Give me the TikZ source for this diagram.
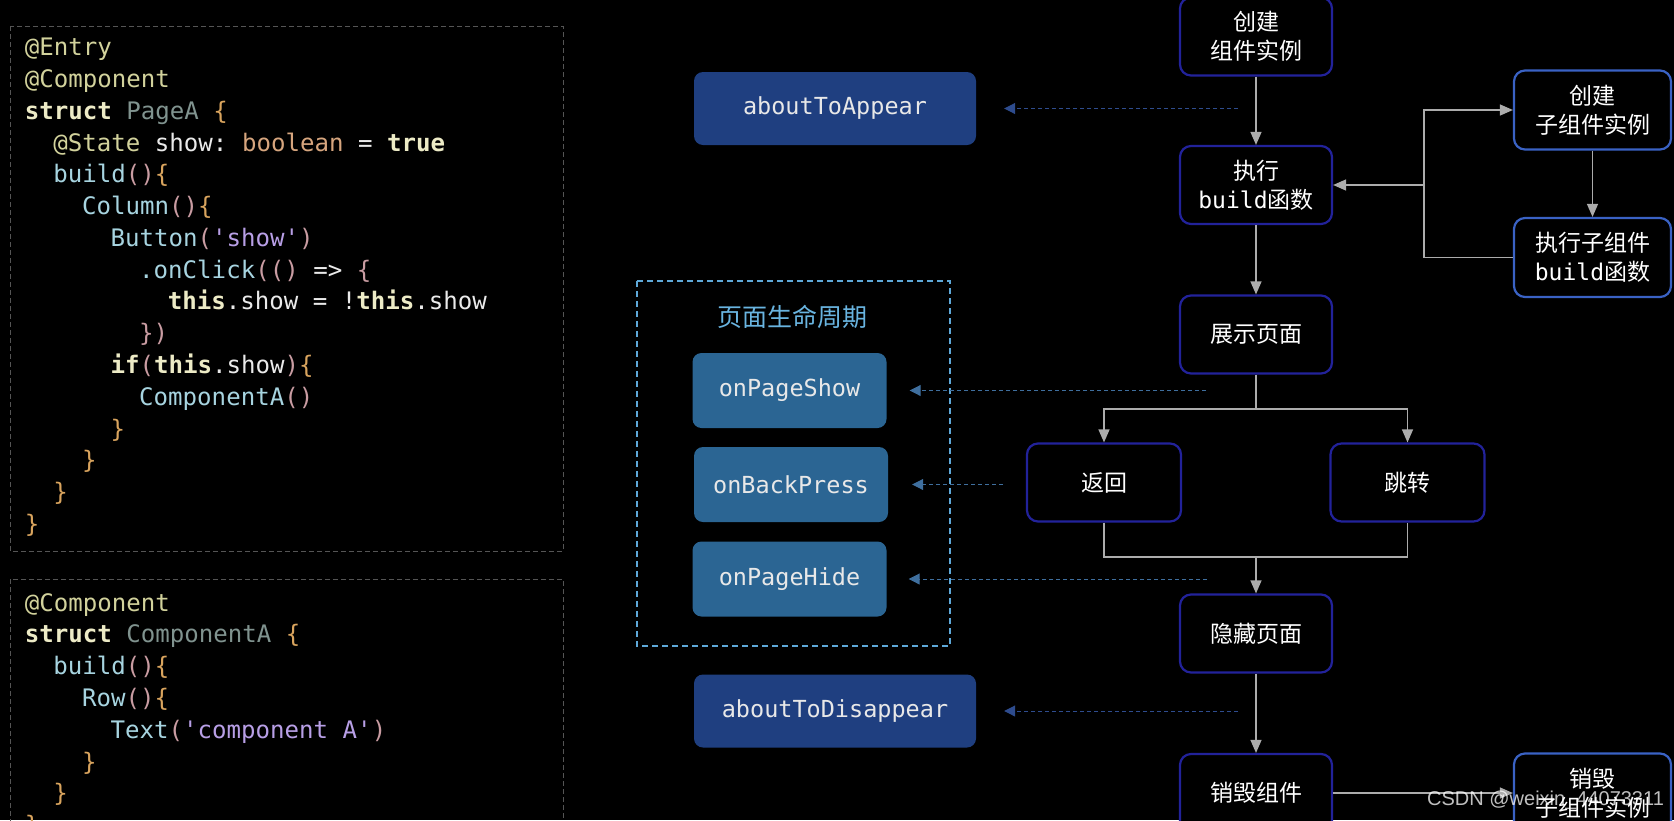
\documentclass[tikz,border=0pt]{standalone}
\usepackage{fontspec}
\setmonofont{DejaVu Sans Mono}
\newfontfamily\cjk{Noto Sans CJK SC}
\newfontfamily\wmfont{Liberation Sans}
\usetikzlibrary{arrows.meta}

\definecolor{annc}{HTML}{D2D29C}
\definecolor{kwc}{HTML}{EDEBC6}
\definecolor{tyc}{HTML}{80938F}
\definecolor{brc}{HTML}{D9A45E}
\definecolor{pac}{HTML}{C99CA2}
\definecolor{fnc}{HTML}{A7D4E0}
\definecolor{strc}{HTML}{B89FE6}
\definecolor{plainc}{HTML}{EAEAEA}
\definecolor{boolc}{HTML}{D6A57E}
\definecolor{codeframe}{HTML}{555555}
\definecolor{boxblue}{HTML}{22229A}
\definecolor{childblue}{HTML}{3A62C4}
\definecolor{hookblue}{HTML}{1F3F80}
\definecolor{pageblue}{HTML}{2B6593}
\definecolor{hooktext}{HTML}{E8E8E8}
\definecolor{linegray}{HTML}{ACACAC}
\definecolor{hookline}{HTML}{2E4C8E}
\definecolor{pageline}{HTML}{3F6F9E}
\definecolor{lifeframe}{HTML}{5EA8D8}
\definecolor{lifetitle}{HTML}{69B4E0}

\newcommand\cAnn[1]{\textcolor{annc}{#1}}
\newcommand\cKw[1]{\textcolor{kwc}{\textbf{#1}}}
\newcommand\cTy[1]{\textcolor{tyc}{#1}}
\newcommand\cBr[1]{\textcolor{brc}{#1}}
\newcommand\cPa[1]{\textcolor{pac}{#1}}
\newcommand\cFn[1]{\textcolor{fnc}{#1}}
\newcommand\cStr[1]{\textcolor{strc}{#1}}
\newcommand\cBool[1]{\textcolor{boolc}{#1}}

\tikzset{
  flowbox/.style={rectangle, rounded corners=11pt, fill=black, draw=boxblue, line width=2.2pt,
    minimum width=152pt, minimum height=78pt, inner sep=0pt, text=white, align=center,
    font=\cjk\fontsize{23}{29}\selectfont},
  childbox/.style={flowbox, draw=childblue, minimum width=157pt, minimum height=79pt},
  hookbox/.style={rectangle, rounded corners=9pt, fill=hookblue, minimum width=282pt,
    minimum height=73pt, inner sep=0pt, text=hooktext, font=\ttfamily\fontsize{23.5}{28}\selectfont},
  pagebox/.style={hookbox, fill=pageblue, minimum width=194pt, minimum height=75pt},
  flow/.style={draw=linegray, line width=1.3pt, -{Triangle[length=13pt,width=11pt]}},
  flowline/.style={draw=linegray, line width=1.3pt},
  hook/.style={dash pattern=on 4pt off 3pt, line width=1pt, -{Triangle[length=11pt,width=11pt]}},
  codeline/.style={anchor=mid west, inner sep=0pt, text=plainc,
    font=\ttfamily\fontsize{24.1}{28}\selectfont},
  codeframe/.style={draw=codeframe, line width=1pt, dash pattern=on 5pt off 3pt}
}

\begin{document}
\begin{tikzpicture}[x=1pt, y=-1pt]
\useasboundingbox (0,0) rectangle (1674,820);
\fill[black] (0,0) rectangle (1674,820);
\clip (0,0) rectangle (1674,820);

% code of the page
\draw[codeframe] (10,26) rectangle (563,551);
\foreach \lv/\ln/\code in {
  0/0/{\cAnn{@Entry}},
  0/1/{\cAnn{@Component}},
  0/2/{\cKw{struct} \cTy{PageA} \cBr{\{}},
  1/3/{\cAnn{@State} show: \cBool{boolean} = \cKw{true}},
  1/4/{\cFn{build}\cPa{()}\cBr{\{}},
  2/5/{\cFn{Column}\cPa{()}\cBr{\{}},
  3/6/{\cFn{Button}\cPa{(}\cStr{'show'}\cPa{)}},
  4/7/{\cFn{.onClick}\cPa{(()} => \cPa{\{}},
  5/8/{\cKw{this}.show = !\cKw{this}.show},
  4/9/{\cPa{\})}},
  3/10/{\cKw{if}\cPa{(}\cKw{this}.show\cPa{)}\cBr{\{}},
  4/11/{\cFn{ComponentA}\cPa{()}},
  3/12/{\cBr{\}}},
  2/13/{\cBr{\}}},
  1/14/{\cBr{\}}},
  0/15/{\cBr{\}}}}
  \node[codeline] (pagecode-\ln) at (24.6+28.6*\lv, 53.5+31.78*\ln) {\code};

% code of the component
\draw[codeframe] (10,579) rectangle (563,830);
\foreach \lv/\ln/\code in {
  0/0/{\cAnn{@Component}},
  0/1/{\cKw{struct} \cTy{ComponentA} \cBr{\{}},
  1/2/{\cFn{build}\cPa{()}\cBr{\{}},
  2/3/{\cFn{Row}\cPa{()}\cBr{\{}},
  3/4/{\cFn{Text}\cPa{(}\cStr{'component A'}\cPa{)}},
  2/5/{\cBr{\}}},
  1/6/{\cBr{\}}},
  0/7/{\cBr{\}}}}
  \node[codeline] (compcode-\ln) at (24.6+28.6*\lv, 609+31.78*\ln) {\code};

% hooks
\node[hookbox] (appear) at (835,108.5) {aboutToAppear};
\node[hookbox] (disappear) at (835,711) {aboutToDisappear};
\draw[lifeframe, line width=1.8pt, dash pattern=on 6pt off 4pt] (637,281) rectangle (950,646);
\node[text=lifetitle, font=\cjk\fontsize{25}{30}\selectfont] (lifetitle) at (792,317) {页面生命周期};
\node[pagebox] (onshow) at (789.5,390.5) {onPageShow};
\node[pagebox] (onback) at (791,484.5) {onBackPress};
\node[pagebox] (onhide) at (789.5,579) {onPageHide};

% flow
\node[flowbox] (create) at (1256,36.5) {创建\\组件实例};
\node[flowbox] (exec) at (1256,185) {执行\\{\ttfamily build}函数};
\node[flowbox] (show) at (1256,334.5) {展示页面};
\node[flowbox, minimum width=154pt] (back) at (1104,482.5) {返回};
\node[flowbox, minimum width=154pt] (jump) at (1407.5,482.5) {跳转};
\node[flowbox] (hide) at (1256,633.5) {隐藏页面};
\node[flowbox] (destroy) at (1256,793) {销毁组件};
\node[childbox] (childcreate) at (1592.5,110) {创建\\子组件实例};
\node[childbox] (childexec) at (1592.5,257.5) {执行子组件\\{\ttfamily build}函数};
\node[childbox] (childdestroy) at (1592.5,793) {销毁\\子组件实例};

\coordinate (split) at (1424,185);
\coordinate (fork) at (1256,409);
\coordinate (join) at (1256,557);
\draw[flow] (create) -- (exec);
\draw[flow] (exec) -- (show);
\draw[flow] (split) |- (childcreate.west);
\draw[flow] (childcreate) -- (childexec);
\draw[flow] (childexec.west) -| (split) -- (exec.east);
\draw[flowline] (show) -- (fork);
\draw[flow] (fork) -| (back);
\draw[flow] (fork) -| (jump);
\draw[flowline] (back) |- (join) -| (jump);
\draw[flow] (join) -- (hide);
\draw[flow] (hide) -- (destroy);
\draw[flow] (destroy) -- (childdestroy);

% dashed hook calls
\coordinate (appearsrc) at (1238,108.5);
\coordinate (showsrc) at (1206,390.5);
\coordinate (backsrc) at (1003,484.5);
\coordinate (hidesrc) at (1207,579);
\coordinate (disappearsrc) at (1238,711);
\draw[hook, hookline, shorten >=28pt] (appearsrc) -- (appear.east);
\draw[hook, pageline, shorten >=23pt] (showsrc) -- (onshow.east);
\draw[hook, pageline, shorten >=24pt] (backsrc) -- (onback.east);
\draw[hook, pageline, shorten >=22pt] (hidesrc) -- (onhide.east);
\draw[hook, hookline, shorten >=28pt] (disappearsrc) -- (disappear.east);

\node[anchor=west, inner sep=0pt, text=white, opacity=0.75, font=\wmfont\fontsize{20}{24}\selectfont]
  (watermark) at (1427,800) {CSDN @weixin\_44073311};
\end{tikzpicture}
\end{document}
